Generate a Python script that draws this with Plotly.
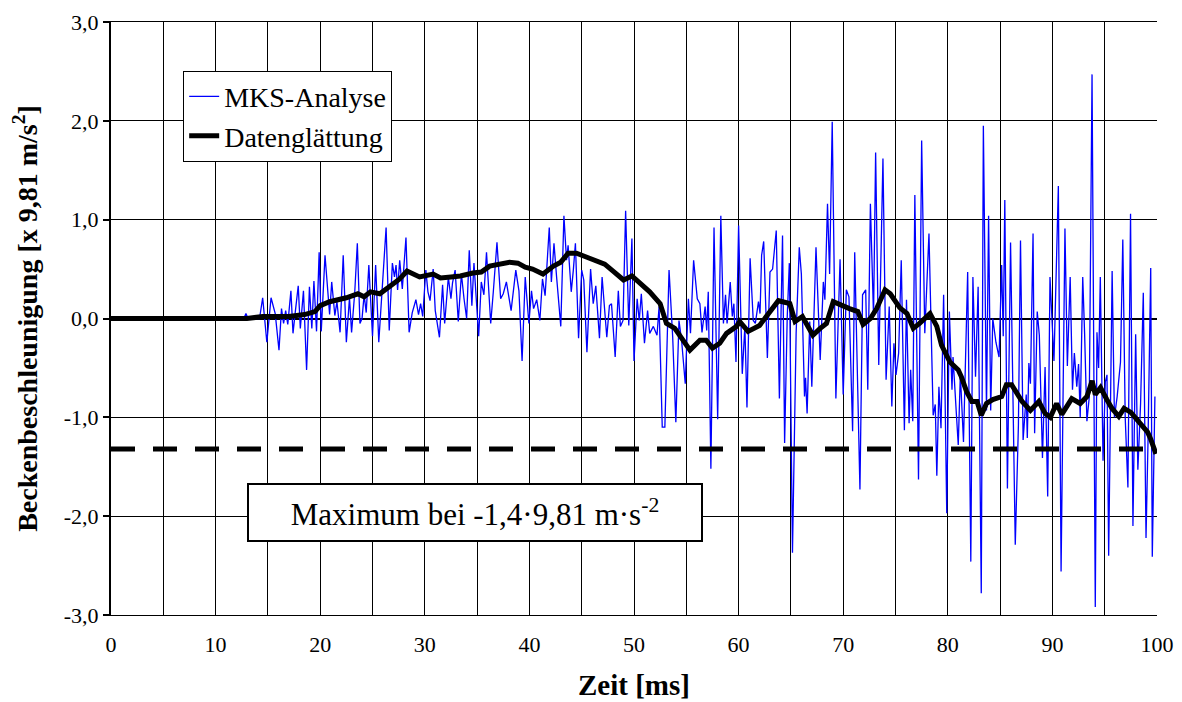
import plotly.graph_objects as go

# ---------------- data ----------------
blue_time = [0, 12.7, 12.9, 13.1, 14.2,
    14.5, 14.9, 15.3, 15.7, 16.06, 16.3, 16.5, 16.7, 16.9, 17.2, 17.4, 17.6, 17.9, 18.1, 18.4, 18.7, 18.97, 19.2, 19.4, 19.65, 19.9, 20.1, 20.46, 20.9,
    21.1, 21.4, 21.6, 21.9, 22.2, 22.5, 22.8, 23.0, 23.3, 23.55, 23.8, 24.0, 24.2, 24.4, 24.65, 25.0, 25.3, 25.6, 25.95, 26.3, 26.6, 26.9, 27.1, 27.25, 27.4, 27.6, 27.85, 28.2, 28.5, 28.8, 29.15, 29.4, 29.6,
    29.8, 30.1, 30.3, 30.5, 30.8, 31.0, 31.4, 31.7, 31.9, 32.25, 32.5, 32.65, 32.9, 33.2, 33.5, 33.75, 34.0, 34.25, 34.5, 34.7, 35.15, 35.4, 35.65, 35.9, 36.3, 36.55, 36.9, 37.25, 37.5, 37.8, 38.25,
    38.7, 39.0, 39.3, 39.6, 39.95, 40.2, 40.4, 40.7, 41.0, 41.25, 41.5, 41.9, 42.1, 42.35, 42.6, 43.0, 43.3, 43.55, 43.7, 44.0, 44.2, 44.4, 44.7, 45.0, 45.2, 45.5, 45.85, 46.1, 46.35, 46.7, 46.95,
    47.4, 47.65, 47.85, 48.2, 48.5, 48.7, 48.95, 49.2, 49.5, 49.8, 50.0, 50.3, 50.5, 50.7, 51.0, 51.3, 51.5, 51.85, 52.2, 52.4, 52.7, 52.95, 53.35, 53.7, 54.0, 54.3, 54.55, 54.9, 55.2, 55.4,
    55.7, 56.05, 56.3, 56.5, 56.8, 56.95, 57.1, 57.35, 57.65, 58.0, 58.3, 58.55, 58.75, 58.9, 59.2, 59.4, 59.55, 59.75, 60.0, 60.35, 60.6, 60.8, 61.1, 61.4, 61.6, 61.9, 62.05, 62.2, 62.4, 62.75, 63.0, 63.25, 63.6, 63.9,
    64.2, 64.4, 64.65, 64.85, 65.15, 65.5, 65.8, 66.0, 66.3, 66.4, 66.55, 66.8, 67.0, 67.4, 67.8, 68.1, 68.25, 68.5, 68.7, 68.95, 69.3, 69.7, 70.0, 70.3, 70.55, 70.9, 71.1, 71.6, 71.85, 72.15, 72.35, 72.6,
    72.9, 73.1, 73.4, 73.8, 74.1, 74.4, 74.65, 74.85, 75.05, 75.3, 75.55, 75.85, 76.05, 76.3, 76.45, 76.65, 76.85, 77.2, 77.5, 77.8, 78.2, 78.6, 78.8, 78.95, 79.15, 79.35, 79.6, 79.9, 80.15, 80.4, 80.5, 80.8, 81.0, 81.2,
    81.5, 81.9, 82.2, 82.4, 82.65, 82.9, 83.2, 83.4, 83.7, 83.9, 84.1, 84.3, 84.6, 84.9, 85.15, 85.3, 85.45, 85.7, 86.0, 86.45, 86.75, 86.95, 87.2, 87.5, 87.6, 87.75, 87.9, 88.15, 88.3, 88.55, 88.75, 89.05, 89.3, 89.55, 89.77,
    90.15, 90.57, 90.83, 91.2, 91.43, 91.7, 91.92, 92.1, 92.33, 92.5, 92.66, 92.9, 93.08, 93.3, 93.53, 93.79, 94.1, 94.26, 94.42, 94.58, 94.84, 95.06, 95.22, 95.38, 95.71, 95.93, 96.19, 96.41, 96.51, 96.73, 96.96, 97.22, 97.47, 97.7, 97.96, 98.17, 98.43, 98.69, 98.95, 99.14, 99.4, 99.55, 99.8]

blue_value = [0, 0, 0.05, 0.0, 0.0,
    0.21, -0.24, 0.21, 0.05, -0.32, 0.10, -0.05, 0.08, -0.06, 0.28, -0.15, 0.05, 0.33, -0.10, 0.28, -0.52, 0.32, -0.10, 0.38, -0.13, 0.67, -0.13, 0.64, 0.04,
    0.37, 0.03, 0.17, -0.14, 0.64, -0.24, 0.21, -0.14, 0.26, 0.76, -0.05, 0.0, 0.24, 0.06, 0.54, -0.18, 0.54, -0.24, 0.35, 0.92, -0.12, 0.56, 0.42, 0.54, 0.29, 0.59, 0.30, 0.82, -0.14, 0.06, 0.19, 0.04, 0.15,
    0.02, 0.49, 0.27, 0.18, 0.50, 0.08, -0.19, 0.34, -0.05, 0.42, 0.20, 0.36, 0.49, -0.03, 0.45, 0.20, 0.0, 0.69, 0.13, 0.56, -0.18, 0.37, 0.24, 0.67, -0.05, 0.27, 0.77, 0.20, 0.25, 0.37, 0.08,
    0.49, 0.28, -0.43, 0.42, -0.05, 0.28, 0.10, 0.19, -0.02, 0.40, 0.23, 0.92, 0.37, 0.76, 0.42, -0.08, 1.04, 0.59, 0.74, 0.27, 0.49, 0.76, -0.20, 0.49, 0.39, -0.34, 0.50, 0.15, 0.33, -0.20, 0.42,
    -0.19, 0.13, 0.15, -0.39, 0.28, -0.08, -0.02, 1.09, -0.07, 0.81, -0.43, 0.20, -0.02, 0.25, -0.25, 0.08, -0.15, -0.08, -0.17, 0.12, -1.10, -1.10, 0.49, -0.19, -1.05, -0.02, -0.22, -0.66, 0.20, -0.15,
    0.59, 0.20, 0.15, -0.14, 0.12, -0.12, 0.27, -1.52, 0.92, -1.02, 1.04, -0.05, 0.24, -0.05, 0.37, 0.02, 0.15, -0.44, 0.94, -0.56, -0.08, -0.90, 0.61, -0.02, -0.05, 0.17, 0.05, 0.64, 0.78, -0.40, 0.47, 0.50, 0.89, -0.81,
    0.84, -1.26, 0.02, 0.56, -2.37, -0.15, 0.72, 0.45, -0.79, -0.60, -0.96, -0.03, -0.69, 0.72, -0.42, 0.37, 0.19, 1.16, 0.45, 1.99, -0.81, 0.60, -0.77, 0.29, 0.22, -1.14, 0.67, -1.73, 0.24, 0.29, -0.72, 1.16,
    0.02, 1.68, -0.47, 1.62, -0.62, 0.12, -0.89, -0.25, -0.57, -0.35, 0.59, -1.13, 0.19, -1.06, -0.52, -1.04, 1.25, -1.63, 1.80, -0.15, 0.86, -0.98, -0.87, -1.59, -0.69, -1.11, 0.24, -1.97, 0.07, -0.72, -0.39, -0.93, -1.28, -0.56,
    -1.25, 0.47, -2.46, 0.42, -0.59, 0.32, -2.78, 1.95, -0.93, 1.04, -0.93, 0.0, -0.24, -0.39, 0.54, -0.18, 1.20, -1.72, 0.77, -2.29, -1.08, 0.79, -1.23, -0.77, -1.21, -0.45, -0.66, 0.86, -1.16, 0.07, -0.17, -1.41, -0.49, -1.80, 0.42,
    -0.43, 1.34, -2.56, 0.91, -0.48, 0.42, -0.72, -0.35, -0.69, -0.46, -1.00, 0.42, -0.16, -1.04, -0.79, 2.47, -2.92, -0.14, -0.50, 0.42, -1.44, -0.64, -0.57, -2.40, 0.48, -1.00, -0.79, -0.48, -0.44, 0.80, -1.00, -1.71, 1.06, -2.10, -0.16, -1.53, -0.86, 0.26, -2.22, -1.25, 0.51, -2.41, -0.79]

smooth_time = [0, 13, 14.5, 17, 18.5, 19.5, 20.0, 20.9, 22.5, 23.6, 24.2, 24.8, 25.7, 26.5, 27.6, 28.3, 29.5, 30.8, 31.5, 32.5, 33.4, 34.6, 35.4, 36.2, 37.2, 38.1, 38.9, 39.6, 40.3, 41.3, 42.3, 43.0, 43.7, 44.5, 45.5, 46.4, 47.2, 48.0, 49.0, 49.8, 50.5, 51.5, 52.5, 53.1, 53.9, 54.6, 55.35, 56.3, 56.9, 57.5, 58.2, 58.85, 59.8, 60.1, 60.9, 62.0, 62.7, 63.8, 64.9, 65.4, 66.1, 67.1, 67.8, 68.4, 69.05, 70.0, 70.6, 71.4, 71.9, 72.6, 73.2, 74.0, 74.5, 75.4, 76.1, 76.7, 77.3, 78.3, 78.95, 79.4, 80.2, 81.0, 81.3, 81.8, 82.3, 82.8, 83.2, 83.7, 84.3, 85.15, 85.6, 86.1, 86.6, 87.1, 87.9, 88.7, 89.3, 89.8, 90.4, 90.9, 91.85, 92.66, 93.3, 93.8, 94.1, 94.6, 95.2, 95.7, 96.35, 96.85, 97.5, 98.3, 99.1, 99.4, 99.9]
smooth_value = [0, 0, 0.02, 0.02, 0.04, 0.07, 0.13, 0.17, 0.21, 0.25, 0.22, 0.27, 0.25, 0.32, 0.40, 0.48, 0.42, 0.45, 0.41, 0.42, 0.43, 0.46, 0.47, 0.53, 0.55, 0.57, 0.56, 0.52, 0.50, 0.45, 0.53, 0.57, 0.66, 0.66, 0.62, 0.59, 0.55, 0.48, 0.39, 0.43, 0.37, 0.27, 0.15, -0.05, -0.10, -0.21, -0.32, -0.22, -0.22, -0.30, -0.25, -0.15, -0.08, -0.03, -0.13, -0.07, 0.03, 0.18, 0.15, -0.03, 0.02, -0.17, -0.10, -0.05, 0.17, 0.12, 0.10, 0.07, -0.06, 0.0, 0.10, 0.29, 0.25, 0.11, 0.05, -0.10, -0.05, 0.05, -0.08, -0.27, -0.44, -0.52, -0.59, -0.74, -0.84, -0.84, -0.98, -0.86, -0.82, -0.79, -0.67, -0.67, -0.76, -0.84, -0.93, -0.84, -0.96, -1.00, -0.86, -0.97, -0.81, -0.86, -0.79, -0.63, -0.77, -0.70, -0.82, -0.91, -0.99, -0.91, -0.95, -1.06, -1.15, -1.22, -1.37]

limit_value = -1.32          # dashed reference line
x_ticks = [0, 10, 20, 30, 40, 50, 60, 70, 80, 90, 100]
y_ticks = [-3, -2, -1, 0, 1, 2, 3]
y_tick_text = ["-3,0", "-2,0", "-1,0", "0,0", "1,0", "2,0", "3,0"]
series_names = ["MKS-Analyse", "Datenglättung"]
annotation_text = "Maximum bei -1,4·9,81 m·s<sup>-2</sup>"

FONT = "Liberation Serif, Times New Roman, Times, serif"

fig = go.Figure()
fig.add_trace(go.Scatter(x=blue_time, y=blue_value, mode="lines", name=series_names[0],
                         line=dict(color="#0000FF", width=1.3)))
fig.add_trace(go.Scatter(x=[x_ticks[0], x_ticks[-1]], y=[limit_value, limit_value], mode="lines",
                         showlegend=False, line=dict(color="black", width=5, dash="24px,18px")))
fig.add_trace(go.Scatter(x=smooth_time, y=smooth_value, mode="lines", name=series_names[1],
                         line=dict(color="black", width=5)))

fig.add_annotation(x=34.8, y=-1.96, xref="x", yref="y", text=annotation_text, showarrow=False,
                   font=dict(family=FONT, size=31, color="black"), bgcolor="white",
                   bordercolor="black", borderwidth=2, width=450, height=53)

# the page body adds an 8px offset, so the figure is 8px smaller than the window
fig.update_layout(
    width=1174, height=694,
    margin=dict(l=103, r=25, t=14, b=87),
    paper_bgcolor="white", plot_bgcolor="white",
    font=dict(family=FONT, color="black", size=22),
    showlegend=True,
    legend=dict(x=0.069, y=0.918, xanchor="left", yanchor="top",
                bgcolor="white", bordercolor="black", borderwidth=1,
                font=dict(family=FONT, size=28, color="black"),
                itemwidth=30, tracegroupgap=0),
    xaxis=dict(range=[0, 100], tickvals=x_ticks, ticktext=[str(v) for v in x_ticks],
               showgrid=True, gridcolor="black", gridwidth=1,
               minor=dict(dtick=5, showgrid=True, gridcolor="black", gridwidth=1),
               showline=True, linecolor="black", linewidth=1, mirror=True,
               ticks="", ticklabelstandoff=10, zeroline=False, automargin=False,
               tickfont=dict(family=FONT, size=22),
               title=dict(text="<b>Zeit [ms]</b>", font=dict(family=FONT, size=29), standoff=18)),
    yaxis=dict(range=[-3, 3], tickvals=y_ticks, ticktext=y_tick_text,
               showgrid=True, gridcolor="black", gridwidth=1,
               showline=True, linecolor="black", linewidth=2,
               ticks="outside", ticklen=6, tickcolor="black", tickwidth=1.5,
               zeroline=True, zerolinecolor="black", zerolinewidth=1.5, automargin=False,
               tickfont=dict(family=FONT, size=22),
               title=dict(text="<b>Beckenbeschleunigung [x 9,81 m/s<sup>2</sup>]</b>",
                          font=dict(family=FONT, size=28), standoff=18)),
)

fig.write_html("out.html")
